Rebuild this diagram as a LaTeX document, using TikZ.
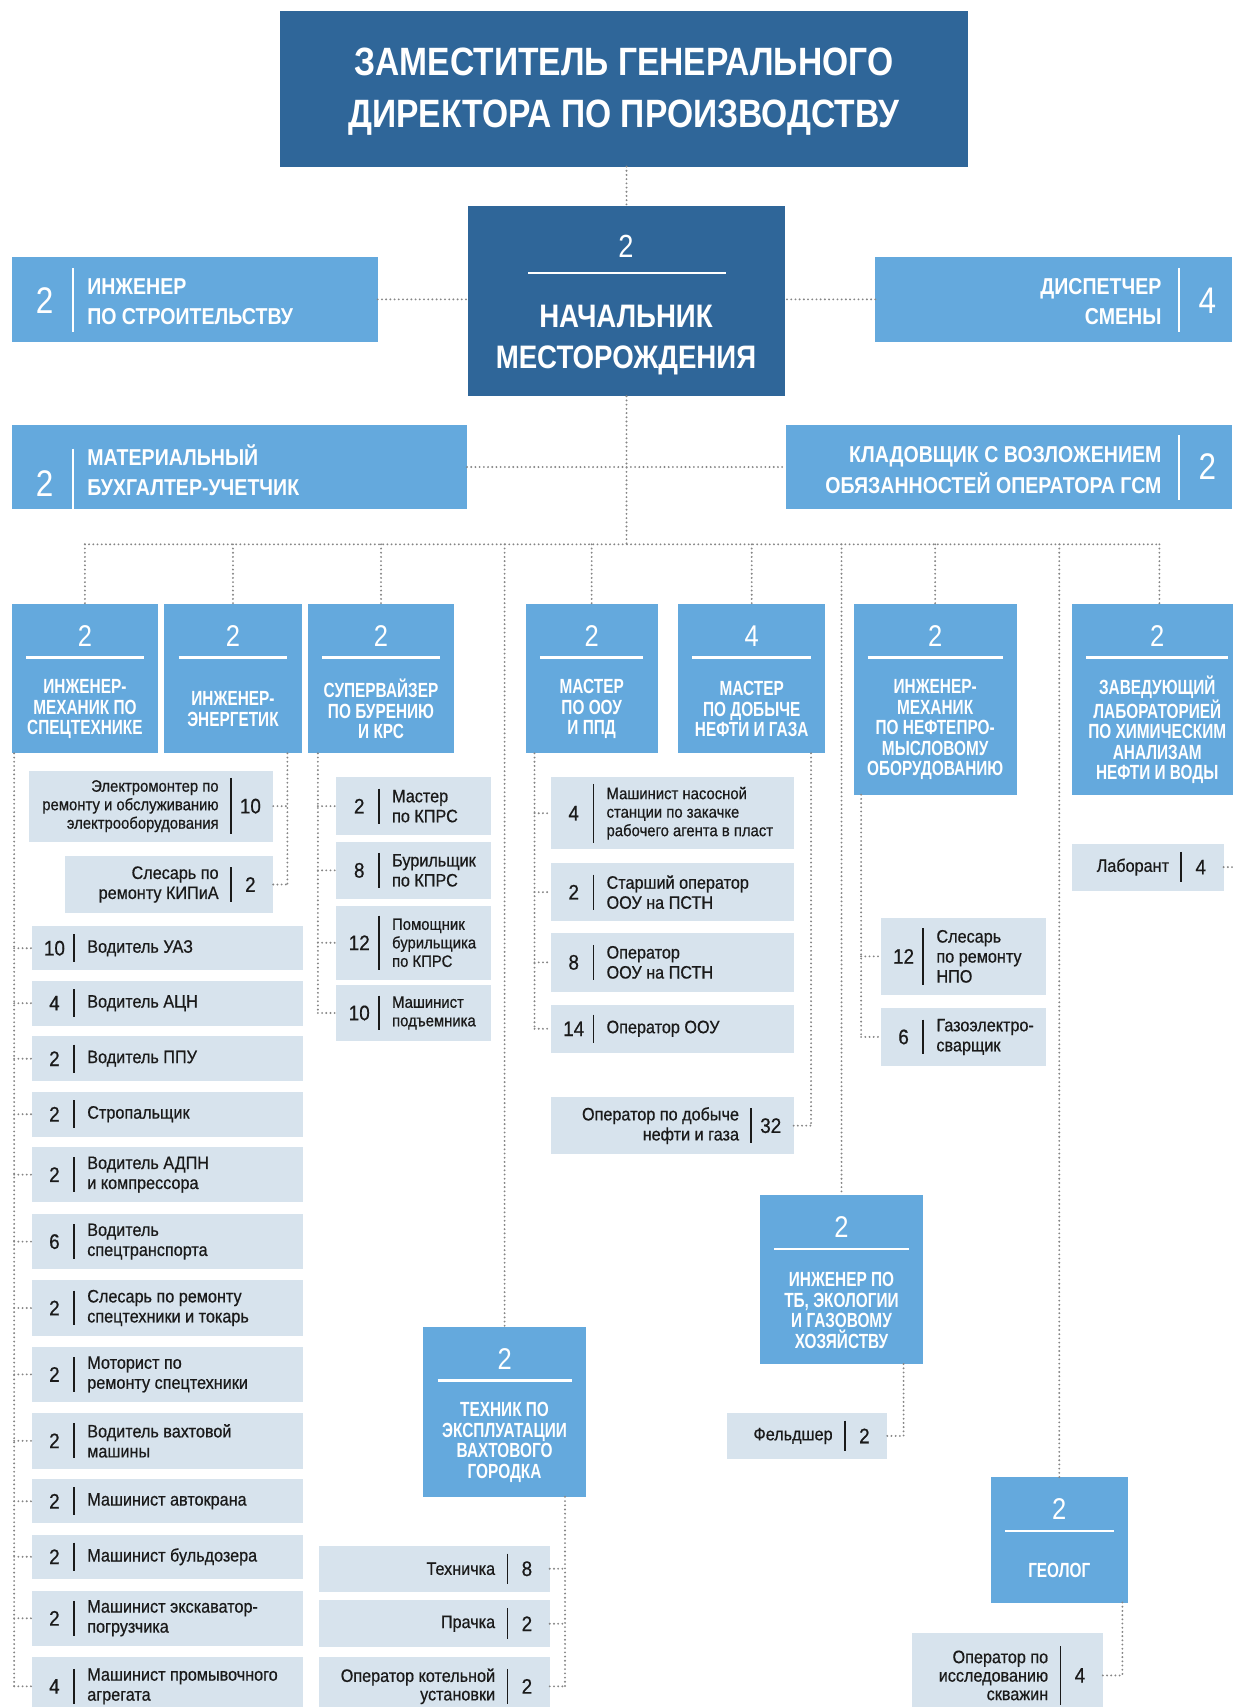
\documentclass[tikz,border=0pt]{standalone}
\usepackage{fontspec}
\setmainfont{Liberation Sans}[FakeStretch=0.9,FakeBold=0.6]
\newfontfamily\hd{Liberation Sans}[FakeStretch=0.75]
\newfontfamily\hw{Liberation Sans}[FakeStretch=0.85]
\usetikzlibrary{fit,calc}
\definecolor{dkblue}{HTML}{2F6699}
\definecolor{ltblue}{HTML}{64A9DD}
\definecolor{paleb}{HTML}{D7E3ED}
\definecolor{dotc}{HTML}{858585}
\definecolor{ink}{HTML}{1A1A1A}

\newcommand\itL[9]{%
  \node[pl,fit={(#2,#3)(#4,#5)}] (#1) {};
  \node[inum] (#1n) at ($(#1.west)+(21,0)$) {#6};
  \node[itx,#9,anchor=west,align=left] (#1t) at ($(#1.west)+(51,0)$) {#7};
  \draw[dv] ($(#1.west)+(39,-#8)$) -- ($(#1.west)+(39,#8)$);
}
\newcommand\itR[9]{%
  \node[pl,fit={(#2,#3)(#4,#5)}] (#1) {};
  \node[inum] (#1n) at ($(#1.east)+(-21,0)$) {#6};
  \node[itx,#9,anchor=east,align=right] (#1t) at ($(#1.east)+(-50,0)$) {#7};
  \draw[dv] ($(#1.east)+(-39,-#8)$) -- ($(#1.east)+(-39,#8)$);
}
\newcommand\bigB[7]{%
  \node[lb,fit={(#2,#3)(#4,#5)}] (#1) {};
  \node[bnum] (#1n) at ($(#1.north)+(0,29)$) {#6};
  \draw[wr] ($(#1.north west)+(13,49)$) -- ($(#1.north east)+(-13,49)$);
  \node[btl] (#1t) at ($(#1.center)+(0,28)$) {#7};
}

\begin{document}
\begin{tikzpicture}[x=1.0883pt,y=-1.0883pt,
  pl/.style={fill=paleb,inner sep=0pt,outer sep=0pt},
  lb/.style={fill=ltblue,inner sep=0pt,outer sep=0pt},
  dk/.style={fill=dkblue,inner sep=0pt,outer sep=0pt},
  dl/.style={draw=dotc,line width=2.1pt,line cap=round,dash pattern=on 0pt off 4.2pt},
  dv/.style={draw=ink,line width=1.6pt},
  wr/.style={draw=white,line width=2.2pt},
  wdv/.style={draw=white,line width=1.6pt},
  inum/.style={text=ink,inner sep=0pt,font=\fontsize{21}{21}\selectfont},
  itx/.style={text=ink,inner sep=0pt},
  fA/.style={font=\fontsize{18}{20}\selectfont},
  fB/.style={font=\fontsize{16.5}{18.5}\selectfont},
  fC/.style={font=\fontsize{18}{18.5}\selectfont},
  bnum/.style={text=white,inner sep=0pt,font=\hw\fontsize{30}{30}\selectfont},
  btl/.style={text=white,inner sep=0pt,align=center,font=\hd\bfseries\fontsize{20.5}{20.5}\selectfont},
  snum/.style={text=white,inner sep=0pt,font=\hw\fontsize{37}{37}\selectfont},
  stl/.style={text=white,inner sep=0pt,font=\hw\bfseries\fontsize{23}{30.5}\selectfont}]
\useasboundingbox (0,0) rectangle (1132,1568);

% top
\node[dk,fit={(257,10)(889,153)}] (top) {};
\node[text=white,inner sep=0pt,align=center,font=\hw\bfseries\fontsize{39.5}{51.8}\selectfont] (topt) at (573,84) {ЗАМЕСТИТЕЛЬ ГЕНЕРАЛЬНОГО\\ДИРЕКТОРА ПО ПРОИЗВОДСТВУ};

% chief
\node[dk,fit={(430,189)(721,364)}] (chief) {};
\node[text=white,inner sep=0pt,font=\hw\fontsize{32}{32}\selectfont] (chiefn) at (575,226) {2};
\draw[wr] (485,251) -- (667,251);
\node[text=white,inner sep=0pt,align=center,font=\hw\bfseries\fontsize{32.5}{40.8}\selectfont] (chieft) at (575,312) {НАЧАЛЬНИК\\МЕСТОРОЖДЕНИЯ};

% side boxes
\node[lb,fit={(11,236)(347,314)}] (ins) {};
\node[snum] (insn) at (41,276) {2};
\draw[wdv] (67,246) -- (67,305);
\node[stl,anchor=west,align=left] (inst) at (80,277) {ИНЖЕНЕР\\ПО СТРОИТЕЛЬСТВУ};

\node[lb,fit={(804,236)(1132,314)}] (disp) {};
\node[snum] (dispn) at (1109,276) {4};
\draw[wdv] (1083,246) -- (1083,305);
\node[stl,anchor=east,align=right] (dispt) at (1067,277) {ДИСПЕТЧЕР\\СМЕНЫ};

\node[lb,fit={(11,390)(429,468)}] (mat) {};
\node[snum] (matn) at (41,444) {2};
\draw[wdv] (67,412) -- (67,468);
\node[stl,anchor=west,align=left] (matt) at (80,432) {МАТЕРИАЛЬНЫЙ\\БУХГАЛТЕР-УЧЕТЧИК};

\node[lb,fit={(722,390)(1132,468)}] (klad) {};
\node[snum] (kladn) at (1109,429) {2};
\draw[wdv] (1083,400) -- (1083,459);
\node[stl,anchor=east,align=right] (kladt) at (1067,432) {КЛАДОВЩИК С ВОЗЛОЖЕНИЕМ\\ОБЯЗАННОСТЕЙ ОПЕРАТОРА ГСМ};

% second row
\bigB{r1}{11}{555}{145}{692}{2}{ИНЖЕНЕР-\\МЕХАНИК ПО\\СПЕЦТЕХНИКЕ}
\bigB{r2}{151}{555}{277}{692}{2}{ИНЖЕНЕР-\\ЭНЕРГЕТИК}
\bigB{r3}{283}{555}{417}{692}{2}{СУПЕРВАЙЗЕР\\ПО БУРЕНИЮ\\И КРС}
\bigB{r4}{483}{555}{604}{692}{2}{МАСТЕР\\ПО ООУ\\И ППД}
\bigB{r5}{623}{555}{758}{692}{4}{МАСТЕР\\ПО ДОБЫЧЕ\\НЕФТИ И ГАЗА}
\bigB{r6}{784}{555}{934}{730}{2}{ИНЖЕНЕР-\\МЕХАНИК\\ПО НЕФТЕПРО-\\МЫСЛОВОМУ\\ОБОРУДОВАНИЮ}
\bigB{r7}{985}{555}{1141}{730}{2}{ЗАВЕДУЮЩИЙ\\ЛАБОРАТОРИЕЙ\\ПО ХИМИЧЕСКИМ\\АНАЛИЗАМ\\НЕФТИ И ВОДЫ}

% lower big boxes
\bigB{tech}{389}{1219}{538}{1375}{2}{ТЕХНИК ПО\\ЭКСПЛУАТАЦИИ\\ВАХТОВОГО\\ГОРОДКА}
\bigB{tb}{698}{1098}{848}{1253}{2}{ИНЖЕНЕР ПО\\ТБ, ЭКОЛОГИИ\\И ГАЗОВОМУ\\ХОЗЯЙСТВУ}
\bigB{geo}{910}{1357}{1036}{1472}{2}{ГЕОЛОГ}

% column 1
\itL{c1}{29}{851}{278}{891}{10}{Водитель УАЗ}{13}{fA}
\itL{c2}{29}{901}{278}{942}{4}{Водитель АЦН}{13}{fA}
\itL{c3}{29}{952}{278}{993}{2}{Водитель ППУ}{13}{fA}
\itL{c4}{29}{1003}{278}{1044}{2}{Стропальщик}{13}{fA}
\itL{c5}{29}{1054}{278}{1104}{2}{Водитель АДПН\\и компрессора}{16}{fA}
\itL{c6}{29}{1115}{278}{1166}{6}{Водитель\\спецтранспорта}{16}{fA}
\itL{c7}{29}{1176}{278}{1227}{2}{Слесарь по ремонту\\спецтехники и токарь}{16}{fA}
\itL{c8}{29}{1237}{278}{1288}{2}{Моторист по\\ремонту спецтехники}{16}{fA}
\itL{c9}{29}{1298}{278}{1349}{2}{Водитель вахтовой\\машины}{16}{fA}
\itL{c10}{29}{1359}{278}{1399}{2}{Машинист автокрана}{13}{fA}
\itL{c11}{29}{1410}{278}{1450}{2}{Машинист бульдозера}{13}{fA}
\itL{c12}{29}{1461}{278}{1512}{2}{Машинист экскаватор-\\погрузчика}{16}{fA}
\itL{c13}{29}{1522}{278}{1576}{4}{Машинист промывочного\\агрегата}{16}{fA}

% column 2
\itR{e1}{27}{708}{251}{773}{10}{Электромонтер по\\ремонту и обслуживанию\\электрооборудования}{26}{fB}
\itR{e2}{60}{786}{251}{839}{2}{Слесарь по\\ремонту КИПиА}{16}{fA}

% column 3
\itL{s1}{309}{714}{451}{767}{2}{Мастер\\по КПРС}{16}{fA}
\itL{s2}{309}{773}{451}{826}{8}{Бурильщик\\по КПРС}{16}{fA}
\itL{s3}{309}{832}{451}{900}{12}{Помощник\\бурильщика\\по КПРС}{25}{fB}
\itL{s4}{309}{905}{451}{956}{10}{Машинист\\подъемника}{16}{fB}

% column 4
\itL{m1}{506}{714}{729}{780}{4}{Машинист насосной\\станции по закачке\\рабочего агента в пласт}{27}{fB}
\itL{m2}{506}{793}{729}{846}{2}{Старший оператор\\ООУ на ПСТН}{16}{fA}
\itL{m3}{506}{857}{729}{911}{8}{Оператор\\ООУ на ПСТН}{16}{fA}
\itL{m4}{506}{923}{729}{967}{14}{Оператор ООУ}{13}{fA}

% column 5
\itR{d1}{506}{1008}{729}{1060}{32}{Оператор по добыче\\нефти и газа}{16}{fA}

% column 6
\itL{p1}{809}{843}{961}{914}{12}{Слесарь\\по ремонту\\НПО}{26}{fA}
\itL{p2}{809}{926}{961}{979}{6}{Газоэлектро-\\сварщик}{16}{fA}

% column 7
\itR{lab}{985}{775}{1124}{818}{4}{Лаборант}{14}{fA}

% under technician
\itR{k1}{293}{1420}{505}{1462}{8}{Техничка}{14}{fA}
\itR{k2}{293}{1470}{505}{1513}{2}{Прачка}{14}{fA}
\itR{k3}{293}{1522}{505}{1576}{2}{Оператор котельной\\установки}{16}{fC}

% under TB engineer and geologist
\itR{fel}{668}{1298}{815}{1340}{2}{Фельдшер}{14}{fA}
\itR{g1}{838}{1500}{1013}{1578}{4}{Оператор по\\исследованию\\скважин}{27}{fC}

% connectors
\coordinate (busL) at (78,500);
\coordinate (busR) at (1065,500);
\draw[dl] (chief.north |- top.south) -- (chief.north);
\draw[dl] (ins.east) -- (ins.east -| chief.west);
\draw[dl] (disp.west) -- (disp.west -| chief.east);
\draw[dl] (chief.south) -- (chief.south |- busL);
\draw[dl] (mat.east) -- (klad.west);
\draw[dl] (busL) -- (busR);
\foreach \b in {r1,r2,r3,r4,r5,r6,tech,tb,geo} \draw[dl] (\b.north |- busL) -- (\b.north);
\draw[dl] (busR) -- (busR |- r7.north);

\coordinate (sp1) at (13,692);
\draw[dl] (sp1) -- (sp1 |- c13.west);
\foreach \i in {c1,c2,c3,c4,c5,c6,c7,c8,c9,c10,c11,c12,c13} \draw[dl] (\i.west -| sp1) -- (\i.west);

\coordinate (sp2) at (264,692);
\draw[dl] (sp2) -- (sp2 |- e2.east);
\foreach \i in {e1,e2} \draw[dl] (\i.east) -- (\i.east -| sp2);

\coordinate (sp3) at (292,692);
\draw[dl] (sp3) -- (sp3 |- s4.west);
\foreach \i in {s1,s2,s3,s4} \draw[dl] (\i.west -| sp3) -- (\i.west);

\coordinate (sp4) at (491,692);
\draw[dl] (sp4) -- (sp4 |- m4.west);
\foreach \i in {m1,m2,m3,m4} \draw[dl] (\i.west -| sp4) -- (\i.west);

\coordinate (sp5) at (745,692);
\draw[dl] (sp5) -- (sp5 |- d1.east);
\draw[dl] (d1.east) -- (d1.east -| sp5);

\coordinate (sp6) at (791,730);
\draw[dl] (sp6) -- (sp6 |- p2.west);
\foreach \i in {p1,p2} \draw[dl] (\i.west -| sp6) -- (\i.west);

\coordinate (sp7) at (1135,730);
\draw[dl] (sp7) -- (sp7 |- lab.east);
\draw[dl] (lab.east) -- (lab.east -| sp7);

\coordinate (sp8) at (519,1375);
\draw[dl] (sp8) -- (sp8 |- k3.east);
\foreach \i in {k1,k2,k3} \draw[dl] (\i.east) -- (\i.east -| sp8);

\coordinate (sp9) at (830,1253);
\draw[dl] (sp9) -- (sp9 |- fel.east);
\draw[dl] (fel.east) -- (fel.east -| sp9);

\coordinate (sp10) at (1031,1472);
\draw[dl] (sp10) -- (sp10 |- g1.east);
\draw[dl] (g1.east) -- (g1.east -| sp10);
\end{tikzpicture}
\end{document}
